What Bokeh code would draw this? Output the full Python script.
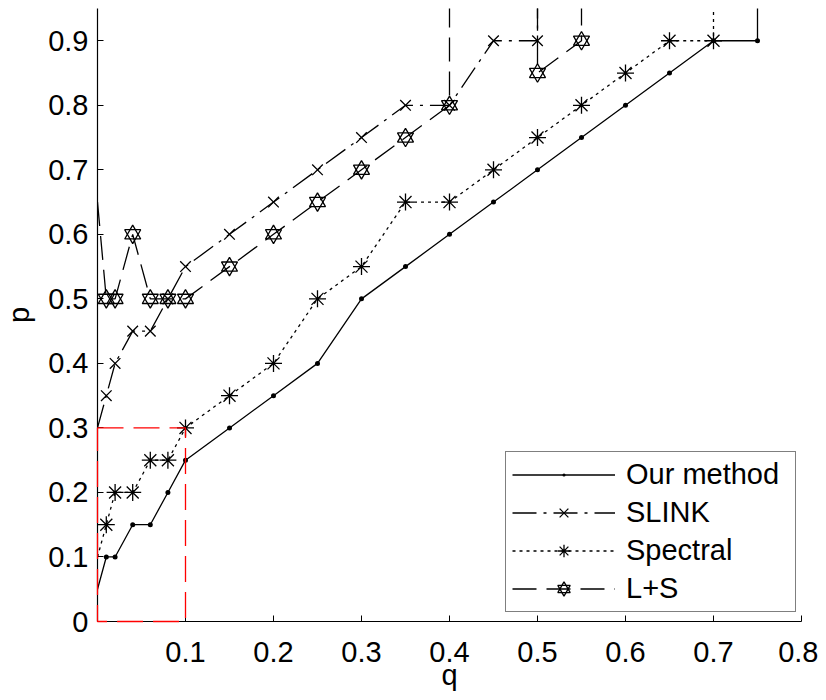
from bokeh.plotting import figure
from bokeh.models import Range1d, FixedTicker, Legend, LegendItem, Title
from bokeh.embed import file_html
from bokeh.resources import INLINE

# ---- data ----
q_our = [0, 0.01, 0.02, 0.04, 0.06, 0.08, 0.1, 0.15, 0.2, 0.25, 0.3, 0.35, 0.4, 0.45, 0.5, 0.55, 0.6, 0.65, 0.7, 0.75, 0.75]
p_our = [0.05, 0.1, 0.1, 0.15, 0.15, 0.2, 0.25, 0.3, 0.35, 0.4, 0.5, 0.55, 0.6, 0.65, 0.7, 0.75, 0.8, 0.85, 0.9, 0.9, 1.0]

q_slink = [0, 0.01, 0.02, 0.04, 0.06, 0.08, 0.1, 0.15, 0.2, 0.25, 0.3, 0.35, 0.4, 0.45, 0.5, 0.5]
p_slink = [0.3, 0.35, 0.4, 0.45, 0.45, 0.5, 0.55, 0.6, 0.65, 0.7, 0.75, 0.8, 0.8, 0.9, 0.9, 1.0]

q_spec = [0, 0.01, 0.02, 0.04, 0.06, 0.08, 0.1, 0.15, 0.2, 0.25, 0.3, 0.35, 0.4, 0.45, 0.5, 0.55, 0.6, 0.65, 0.7, 0.7]
p_spec = [0.1, 0.15, 0.2, 0.2, 0.25, 0.25, 0.3, 0.35, 0.4, 0.5, 0.55, 0.65, 0.65, 0.7, 0.75, 0.8, 0.85, 0.9, 0.9, 1.0]

q_ls = [0, 0.01, 0.02, 0.04, 0.06, 0.08, 0.1, 0.15, 0.2, 0.25, 0.3, 0.35, 0.4, 0.4, 0.5, 0.5, 0.55, 0.55]
p_ls = [0.65, 0.5, 0.5, 0.6, 0.5, 0.5, 0.5, 0.55, 0.6, 0.65, 0.7, 0.75, 0.8, 1.0, 1.0, 0.85, 0.9, 1.0]

rect_q = [0, 0.1]
rect_p = [0, 0.3]

series_names = ["Our method", "SLINK", "Spectral", "L+S"]
x_title = "q"
y_title = "p"

q_ticks = [0.1, 0.2, 0.3, 0.4, 0.5, 0.6, 0.7, 0.8]
q_tick_labels = ["0.1", "0.2", "0.3", "0.4", "0.5", "0.6", "0.7", "0.8"]
p_ticks = [0, 0.1, 0.2, 0.3, 0.4, 0.5, 0.6, 0.7, 0.8, 0.9]
p_tick_labels = ["0", "0.1", "0.2", "0.3", "0.4", "0.5", "0.6", "0.7", "0.8", "0.9"]

x_range = (0, 0.8)
y_range = (0, 0.95)

FONT = "Liberation Sans"
FS = "29px"

W, H = 818, 692
ML, MR, MT, MB = 97, 17, 8, 71

p = figure(width=W, height=H, output_backend="svg", toolbar_location=None,
           x_range=Range1d(*x_range), y_range=Range1d(*y_range),
           min_border_left=ML, min_border_right=MR, min_border_top=MT, min_border_bottom=MB)
p.outline_line_color = None
p.grid.visible = False
p.background_fill_color = "white"
p.border_fill_color = "white"

LW = 1.3
# lines
r_our = p.line(q_our, p_our, line_color="black", line_width=LW)
r_slink = p.line(q_slink, p_slink, line_color="black", line_width=LW, line_dash="24 7 3 7")
r_spec = p.line(q_spec, p_spec, line_color="black", line_width=LW, line_dash="3 4")
r_ls = p.line(q_ls, p_ls, line_color="black", line_width=LW, line_dash="24 10")

# markers (the q=0 start points carry no marker)
m_our = p.scatter(q_our[1:], p_our[1:], marker="dot", size=20, fill_color="black", line_color="black")
m_slink = p.scatter(q_slink[1:], p_slink[1:], marker="x", size=15, line_color="black", line_width=LW)
m_spec = p.scatter(q_spec[1:], p_spec[1:], marker="asterisk", size=17, line_color="black", line_width=LW)
m_ls1 = p.scatter(q_ls[1:], p_ls[1:], marker="triangle", size=16, fill_color=None, line_color="black", line_width=LW)
m_ls2 = p.scatter(q_ls[1:], p_ls[1:], marker="inverted_triangle", size=16, fill_color=None, line_color="black", line_width=LW)

# red dashed zoom box
p.quad(left=rect_q[0], right=rect_q[1], bottom=rect_p[0], top=rect_p[1],
       fill_color=None, line_color="red", line_width=1.3, line_dash="26 10", level="overlay")

# axes
for ax in (p.xaxis[0], p.yaxis[0]):
    ax.axis_line_color = "black"
    ax.axis_line_width = 1.2
    ax.major_tick_line_color = "black"
    ax.major_tick_in = 6
    ax.major_tick_out = 0
    ax.minor_tick_line_color = None
    ax.major_label_text_font = FONT
    ax.major_label_text_font_size = FS
    ax.major_label_text_color = "black"
    ax.axis_label_text_font = FONT
    ax.axis_label_text_font_size = FS
    ax.axis_label_text_font_style = "normal"
    ax.axis_label_text_color = "black"

p.xaxis.ticker = FixedTicker(ticks=q_ticks)
p.xaxis.major_label_overrides = {t: l for t, l in zip(q_ticks, q_tick_labels)}
p.yaxis.ticker = FixedTicker(ticks=p_ticks)
p.yaxis.major_label_overrides = {t: l for t, l in zip(p_ticks, p_tick_labels)}
p.yaxis.axis_label = y_title
p.xaxis.major_label_standoff = 20
p.yaxis.major_label_standoff = 9
p.yaxis.axis_label_standoff = 10

# x-axis title as a title panel under the axis, pulled up with a negative standoff
p.add_layout(Title(text=x_title, align="center", text_font=FONT, text_font_size=FS,
                   text_font_style="normal", text_color="black", standoff=-16), "below")

legend = Legend(items=[
    LegendItem(label=series_names[0], renderers=[r_our, m_our]),
    LegendItem(label=series_names[1], renderers=[r_slink, m_slink]),
    LegendItem(label=series_names[2], renderers=[r_spec, m_spec]),
    LegendItem(label=series_names[3], renderers=[r_ls, m_ls1, m_ls2]),
], location=(408, 9))
legend.label_text_font = FONT
legend.label_text_font_size = FS
legend.label_text_color = "black"
legend.border_line_color = "black"
legend.border_line_width = 1
legend.background_fill_color = "white"
legend.background_fill_alpha = 1
legend.padding = 6
legend.spacing = 5
legend.glyph_height = 31
legend.label_height = 31
legend.glyph_width = 103
legend.label_standoff = 11
legend.label_width = 163
legend.margin = 0
p.add_layout(legend)

open("out.html", "w").write(file_html(p, INLINE))
